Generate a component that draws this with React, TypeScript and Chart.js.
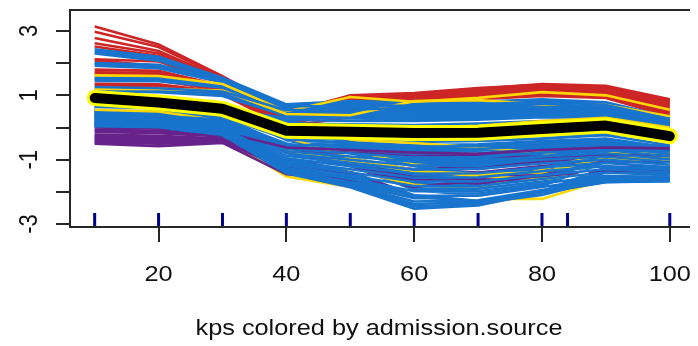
import { useEffect, useRef } from 'react';
import { Chart, registerables } from 'chart.js';

Chart.register(...registerables);

// kps grid on which every patient curve is evaluated
const kpsGrid = [10, 20, 30, 40, 50, 60, 70, 80, 90, 100];
// observed kps values, drawn as a rug along the bottom
const rugKps = [10, 20, 30, 40, 50, 60, 70, 80, 84, 100];

const xTickValues = [20, 40, 60, 80, 100];
const yTickValues = [-3, -2, -1, 0, 1, 2, 3];
const yLabelValues = [3, 1, -1, -3];
const xAxisTitle = 'kps colored by admission.source';

// overall mean curve
const meanCurve = [0.92, 0.78, 0.58, -0.1, -0.13, -0.17, -0.16, -0.05, 0.06, -0.27];

// admission.source level 1
const source1Curves = [
  [2.43, 2.2, 1.55, 0.72, 0.82, 0.78, 0.8, 0.88, 0.78, 0.32],
  [2.36, 2.14, 1.52, 0.68, 0.76, 0.72, 0.76, 0.82, 0.72, 0.28],
  [2.3, 2.08, 1.48, 0.64, 0.7, 0.66, 0.7, 0.76, 0.66, 0.25],
  [1.98, 1.9, 1.44, 0.6, 0.62, 0.6, 0.64, 0.7, 0.62, 0.22],
  [1.92, 1.84, 1.4, 0.56, 0.56, 0.55, 0.6, 0.66, 0.58, 0.19],
  [1.58, 1.56, 1.34, 0.52, 0.5, 0.5, 0.55, 0.6, 0.54, 0.16],
  [1.52, 1.5, 1.3, 0.48, 0.45, 0.45, 0.5, 0.56, 0.5, 0.13],
  [1.45, 1.44, 1.24, 0.44, 0.4, 0.4, 0.45, 0.52, 0.46, 0.1],
  [1.2, 1.16, 1.05, 0.4, 0.36, 0.36, 0.4, 0.48, 0.42, 0.07],
  [1.14, 1.1, 0.98, 0.36, 0.32, 0.3, 0.35, 0.42, 0.38, 0.05],
  [0.66, 0.62, 0.56, 0.3, 0.28, 0.26, 0.3, 0.38, 0.34, 0.03],
  [0.62, 0.58, 0.52, 0.24, 0.2, 0.2, 0.24, 0.32, 0.3, 0.01],
  [0.6, 0.56, 0.5, 0.12, 0.1, 0.08, 0.12, 0.2, 0.24, -0.02],
  [0.58, 0.54, 0.46, 0.06, 0.04, 0.02, 0.06, 0.14, 0.2, -0.06],
  [0.56, 0.52, 0.42, -0.25, -0.3, -0.35, -0.32, -0.25, -0.15, -0.45],
  [0.53, 0.48, 0.38, -0.32, -0.38, -0.45, -0.42, -0.34, -0.24, -0.55],
  [0.5, 0.45, 0.35, -0.4, -0.46, -0.55, -0.52, -0.42, -0.34, -0.62],
  [0.46, 0.42, 0.31, -0.48, -0.55, -0.65, -0.62, -0.52, -0.44, -0.7],
  [0.43, 0.38, 0.27, -0.55, -0.65, -0.75, -0.72, -0.62, -0.54, -0.78],
  [0.4, 0.35, 0.23, -0.62, -0.75, -0.88, -0.85, -0.72, -0.64, -0.86],
  [0.36, 0.31, 0.19, -0.7, -0.85, -1.0, -0.98, -0.84, -0.74, -0.95],
  [0.33, 0.28, 0.15, -0.78, -0.95, -1.12, -1.1, -0.95, -0.84, -1.03],
  [0.3, 0.25, 0.11, -0.85, -1.05, -1.25, -1.22, -1.06, -0.94, -1.12],
  [0.26, 0.22, 0.07, -0.92, -1.15, -1.38, -1.35, -1.18, -1.04, -1.2],
  [0.23, 0.19, 0.03, -1.0, -1.25, -1.5, -1.48, -1.3, -1.14, -1.28],
  [0.2, 0.16, -0.01, -1.08, -1.35, -1.62, -1.62, -1.42, -1.24, -1.36],
  [0.17, 0.13, -0.05, -1.15, -1.45, -1.75, -1.75, -1.55, -1.34, -1.44],
  [0.14, 0.1, -0.09, -1.22, -1.55, -1.9, -1.9, -1.68, -1.44, -1.52],
  [0.11, 0.07, -0.13, -1.3, -1.65, -2.05, -2.05, -1.8, -1.54, -1.58],
  [0.08, 0.04, -0.17, -1.36, -1.75, -2.2, -2.2, -1.9, -1.62, -1.62],
  [0.05, 0.02, -0.21, -1.4, -1.82, -2.38, -2.32, -1.98, -1.68, -1.66],
  [0.03, 0.0, -0.25, -1.42, -1.86, -2.52, -2.42, -2.02, -1.7, -1.67],
  [0.52, 0.5, 0.44, -0.1, -0.45, -0.8, -1.05, -0.9, -0.62, -0.74],
  [0.38, 0.34, 0.22, -0.5, -1.0, -1.45, -1.7, -1.5, -1.1, -1.18],
  [0.25, 0.2, 0.05, -0.9, -1.4, -1.95, -2.35, -2.1, -1.6, -1.6],
  [0.64, 0.6, 0.54, 0.2, -0.1, -0.25, -0.4, -0.35, -0.2, -0.32],
  [0.3, 0.28, 0.18, -0.6, -0.8, -1.2, -1.45, -1.25, -0.9, -0.98],
  [0.12, 0.08, -0.04, -0.95, -1.5, -2.15, -2.3, -1.95, -1.4, -1.42],
  [2.0, 1.95, 1.46, 0.66, 0.66, 0.68, 0.72, 0.8, 0.7, 0.26],
  [1.26, 1.22, 1.12, 0.54, 0.55, 0.62, 0.68, 0.74, 0.64, 0.2],
  [0.48, 0.44, 0.33, -0.36, -0.5, -0.6, -0.58, -0.47, -0.4, -0.66],
  [0.44, 0.4, 0.29, -0.52, -0.6, -0.7, -0.67, -0.57, -0.5, -0.74],
  [0.41, 0.36, 0.25, -0.58, -0.7, -0.82, -0.8, -0.67, -0.6, -0.82],
  [0.38, 0.33, 0.21, -0.66, -0.8, -0.94, -0.92, -0.78, -0.7, -0.9],
  [0.35, 0.3, 0.17, -0.74, -0.9, -1.06, -1.04, -0.9, -0.8, -0.99],
  [0.31, 0.26, 0.13, -0.82, -1.0, -1.18, -1.16, -1.0, -0.9, -1.08],
  [0.28, 0.24, 0.09, -0.88, -1.1, -1.31, -1.28, -1.12, -1.0, -1.16],
  [0.24, 0.2, 0.05, -0.96, -1.2, -1.44, -1.42, -1.24, -1.1, -1.24],
  [0.21, 0.17, 0.01, -1.04, -1.3, -1.56, -1.55, -1.36, -1.2, -1.32],
  [0.18, 0.14, -0.03, -1.12, -1.4, -1.68, -1.68, -1.48, -1.3, -1.4],
  [0.15, 0.11, -0.07, -1.18, -1.5, -1.82, -1.82, -1.6, -1.4, -1.48],
  [0.12, 0.08, -0.11, -1.26, -1.6, -1.98, -1.98, -1.74, -1.5, -1.55],
  [0.09, 0.05, -0.15, -1.33, -1.7, -2.12, -2.12, -1.85, -1.58, -1.6],
  [0.06, 0.03, -0.19, -1.38, -1.78, -2.3, -2.26, -1.94, -1.65, -1.64],
  [0.04, 0.01, -0.23, -1.41, -1.84, -2.45, -2.38, -2.0, -1.69, -1.66],
];

// admission.source level 2
const source2Curves = [
  [3.14, 2.58, 1.6, 0.5, 0.97, 1.05, 1.2, 1.35, 1.3, 0.88],
  [2.98, 2.5, 1.56, 0.42, 0.92, 1.0, 1.16, 1.3, 1.22, 0.8],
  [2.78, 2.38, 1.52, 0.36, 0.86, 0.96, 1.1, 1.25, 1.16, 0.72],
  [2.62, 2.3, 1.48, 0.3, 0.8, 0.92, 1.06, 1.2, 1.1, 0.66],
  [2.52, 2.22, 1.45, 0.26, 0.76, 0.88, 1.02, 1.16, 1.06, 0.6],
  [2.12, 2.05, 1.4, 0.22, 0.72, 0.86, 0.98, 1.1, 1.02, 0.55],
  [1.8, 1.76, 1.3, 0.2, 0.68, 0.9, 1.06, 1.22, 1.16, 0.5],
  [1.72, 1.7, 1.25, 0.16, 0.62, 0.82, 0.96, 1.06, 1.0, 0.45],
  [1.66, 1.64, 1.2, 0.12, 0.56, 0.76, 0.92, 1.02, 0.96, 0.4],
  [1.36, 1.34, 1.1, 0.08, 0.52, 0.72, 0.88, 0.98, 0.92, 0.35],
  [1.3, 1.28, 1.02, 0.04, 0.32, 0.46, 0.5, 0.56, 0.55, 0.3],
  [2.08, 1.92, 1.42, 0.45, 1.0, 1.07, 1.23, 1.33, 1.26, 0.85],
  [1.5, 1.46, 1.15, 0.4, 0.95, 1.02, 1.18, 1.28, 1.22, 0.78],
];

// admission.source level 3
const source3Curves = [
  [0.15, 0.1, -0.3, -1.52, -1.85, -2.15, -2.22, -2.22, -1.62, -1.62],
  [1.62, 1.6, 1.35, 0.5, 0.95, 0.8, 0.92, 1.1, 1.0, 0.55],
  [1.2, 1.2, 1.15, 0.42, 0.38, 0.82, 0.85, 0.72, 0.7, 0.35],
  [1.05, 0.95, 0.75, 0.1, 0.05, 0.0, 0.05, 0.2, 0.3, 0.0],
  [0.45, 0.4, 0.28, -0.55, -0.72, -1.15, -1.3, -1.2, -0.82, -0.82],
  [0.28, 0.25, -0.05, -1.0, -1.32, -1.78, -1.92, -1.3, -0.8, -0.8],
  [0.7, 0.65, 0.52, -0.22, -0.38, -0.48, -0.62, -0.78, -1.02, -1.02],
  [0.9, 0.85, 0.6, -0.3, -0.95, -1.32, -1.52, -1.6, -1.38, -1.38],
  [0.55, 0.5, 0.2, -0.72, -1.05, -1.35, -1.45, -1.4, -0.95, -0.95],
];

// admission.source level 4
const source4Curves = [
  [0.13, 0.08, -0.05, -0.7, -0.85, -0.95, -0.92, -0.8, -0.7, -0.75],
  [-0.06, -0.1, -0.2, -0.95, -1.1, -1.2, -1.15, -1.0, -0.88, -0.9],
  [-0.14, -0.18, -0.28, -1.05, -0.62, -0.68, -0.65, -0.58, -0.5, -0.58],
  [-0.22, -0.26, -0.34, -1.18, -1.28, -1.42, -1.3, -1.12, -1.0, -1.08],
  [-0.3, -0.34, -0.4, -0.82, -0.9, -1.0, -1.2, -1.28, -1.22, -1.22],
  [-0.38, -0.44, -0.44, -1.3, -1.5, -1.72, -1.52, -1.32, -1.28, -1.3],
  [-0.45, -0.5, -0.46, -1.1, -1.32, -1.25, -1.28, -1.05, -0.96, -0.96],
  [-0.5, -0.58, -0.48, -1.45, -1.62, -1.85, -1.65, -1.4, -1.18, -1.16],
  [-0.1, -0.14, -0.24, -0.9, -1.05, -1.3, -1.4, -1.2, -1.05, -1.1],
  [-0.26, -0.3, -0.37, -1.0, -1.2, -1.55, -1.6, -1.45, -1.35, -1.4],
  [-0.34, -0.38, -0.42, -0.75, -0.78, -0.85, -0.88, -0.92, -0.85, -0.88],
  [-0.42, -0.48, -0.45, -1.2, -1.4, -1.6, -1.75, -1.5, -1.35, -1.35],
  [0.0, -0.04, -0.14, -0.62, -0.7, -0.78, -0.82, -0.7, -0.62, -0.65],
];

// admission.source level 5
const source5Curves = [
  [-0.33, -0.36, -0.22, -1.22, -1.45, -1.88, -2.05, -1.72, -1.3, -1.3],
  [0.6, 0.55, 0.42, -0.48, -0.85, -1.25, -1.38, -1.15, -1.45, -1.45],
  [0.18, 0.12, 0.02, -0.88, -1.28, -2.02, -2.2, -1.9, -1.15, -1.15],
];

const SOURCE_COLORS = ['#1874CD', '#CD2626', '#FFD700', '#68228B', '#FFFFFF'];
const SOURCE_CURVES = [source1Curves, source2Curves, source3Curves, source4Curves, source5Curves];
// where each level's curves sit in the drawing sequence: [start, span]
const SOURCE_DRAW_SPAN = [
  [0, 1],
  [-1, 1],
  [0, 0.8],
  [0, 0.9],
  [0, 1],
];

const X_MIN = 6.14;
const X_MAX = 102.85;
const Y_MIN = -3.093;
const Y_MAX = 3.653;
const RUG_LEVEL = -2.875;

const FONT_FAMILY = '"Liberation Sans", Arial, Helvetica, sans-serif';
const FONT_PX = 22;
const TEXT_STRETCH = 1.15;
const AXIS_COLOR = '#262626';

const toPoints = (values: number[]) => kpsGrid.map((k, i) => ({ x: k, y: values[i] }));

const curveDataset = (values: number[], color: string) => ({
  data: toPoints(values),
  borderColor: color,
  borderWidth: 2.6,
  pointRadius: 0,
  tension: 0,
  fill: false,
});

// frame (top, left, bottom) plus rotated / stretched axis text
const frameAndText = {
  id: 'frameAndText',
  afterDraw(chart: any) {
    const { ctx, chartArea, scales } = chart;
    const xs = scales.x;
    const ys = scales.y;
    ctx.save();
    ctx.strokeStyle = AXIS_COLOR;
    ctx.lineWidth = 2;
    ctx.beginPath();
    ctx.moveTo(chartArea.right + 2, chartArea.top);
    ctx.lineTo(chartArea.left, chartArea.top);
    ctx.lineTo(chartArea.left, chartArea.bottom);
    ctx.lineTo(chartArea.right + 2, chartArea.bottom);
    ctx.stroke();

    ctx.fillStyle = '#111';
    ctx.font = `${FONT_PX}px ${FONT_FAMILY}`;
    ctx.textAlign = 'center';
    ctx.textBaseline = 'alphabetic';

    for (const v of xTickValues) {
      ctx.save();
      ctx.translate(xs.getPixelForValue(v), chartArea.bottom + 54);
      ctx.scale(TEXT_STRETCH, 1);
      ctx.fillText(String(v), 0, 0);
      ctx.restore();
    }

    for (const v of yLabelValues) {
      ctx.save();
      ctx.translate(chartArea.left - 33, ys.getPixelForValue(v));
      ctx.scale(TEXT_STRETCH, 1);
      ctx.rotate(-Math.PI / 2);
      ctx.fillText(String(v), 0, 0);
      ctx.restore();
    }

    ctx.save();
    ctx.translate((chartArea.left + chartArea.right) / 2, chartArea.bottom + 108);
    ctx.scale(TEXT_STRETCH, 1);
    ctx.fillText(xAxisTitle, 0, 0);
    ctx.restore();
    ctx.restore();
  },
};

export default function App() {
  const canvasRef = useRef<HTMLCanvasElement | null>(null);

  useEffect(() => {
    const canvas = canvasRef.current;
    if (!canvas) return;

    // interleave the levels so that curves of different colours overlap
    const sequenced: { rank: number; ds: any }[] = [];
    SOURCE_CURVES.forEach((curves, level) => {
      const [start, span] = SOURCE_DRAW_SPAN[level];
      curves.forEach((c, i) => {
        const rank = start + (span * (i + 0.5)) / curves.length;
        sequenced.push({ rank, ds: curveDataset(c, SOURCE_COLORS[level]) });
      });
    });
    sequenced.sort((a, b) => a.rank - b.rank);

    // datasets listed bottom to top
    const layers: any[] = sequenced.map((s) => s.ds);
    layers.push({
      data: toPoints(meanCurve),
      borderColor: '#FFFF00',
      borderWidth: 16,
      borderCapStyle: 'round',
      borderJoinStyle: 'round',
      pointRadius: 0,
      tension: 0,
    });
    layers.push({
      data: toPoints(meanCurve),
      borderColor: '#000000',
      borderWidth: 10,
      borderCapStyle: 'round',
      borderJoinStyle: 'round',
      pointRadius: 0,
      tension: 0,
    });
    layers.push({
      data: rugKps.map((k) => ({ x: k, y: RUG_LEVEL })),
      showLine: false,
      pointStyle: 'line',
      pointRotation: 90,
      pointRadius: 7,
      pointBorderWidth: 3,
      pointBorderColor: '#00008B',
      pointBackgroundColor: '#00008B',
    });
    const datasets = layers.reverse();

    const chart = new Chart(canvas, {
      type: 'line',
      data: { datasets },
      options: {
        animation: false,
        responsive: false,
        events: [],
        layout: { padding: { top: 10, left: 0, right: 0, bottom: 0 } },
        plugins: { legend: { display: false }, tooltip: { enabled: false } },
        scales: {
          x: {
            type: 'linear',
            min: X_MIN,
            max: X_MAX,
            border: { display: false },
            grid: {
              display: true,
              drawOnChartArea: false,
              drawTicks: true,
              tickLength: 15,
              color: AXIS_COLOR,
              lineWidth: 2,
            },
            ticks: { display: false },
            afterBuildTicks: (scale: any) => {
              scale.ticks = xTickValues.map((v) => ({ value: v }));
            },
            afterFit: (scale: any) => {
              scale.height = 119;
              scale.paddingLeft = 0;
              scale.paddingRight = 0;
            },
          },
          y: {
            type: 'linear',
            min: Y_MIN,
            max: Y_MAX,
            border: { display: false },
            grid: {
              display: true,
              drawOnChartArea: false,
              drawTicks: true,
              tickLength: 14,
              color: AXIS_COLOR,
              lineWidth: 2,
            },
            ticks: { display: false },
            afterBuildTicks: (scale: any) => {
              scale.ticks = yTickValues.map((v) => ({ value: v }));
            },
            afterFit: (scale: any) => {
              scale.width = 70;
              scale.paddingTop = 0;
              scale.paddingBottom = 0;
            },
          },
        },
      },
      plugins: [frameAndText],
    });

    return () => chart.destroy();
  }, []);

  return (
    <div style={{ position: 'fixed', left: 0, top: 0, width: 698, height: 346, background: '#fff' }}>
      <canvas ref={canvasRef} width={698} height={346} style={{ display: 'block' }} />
    </div>
  );
}
